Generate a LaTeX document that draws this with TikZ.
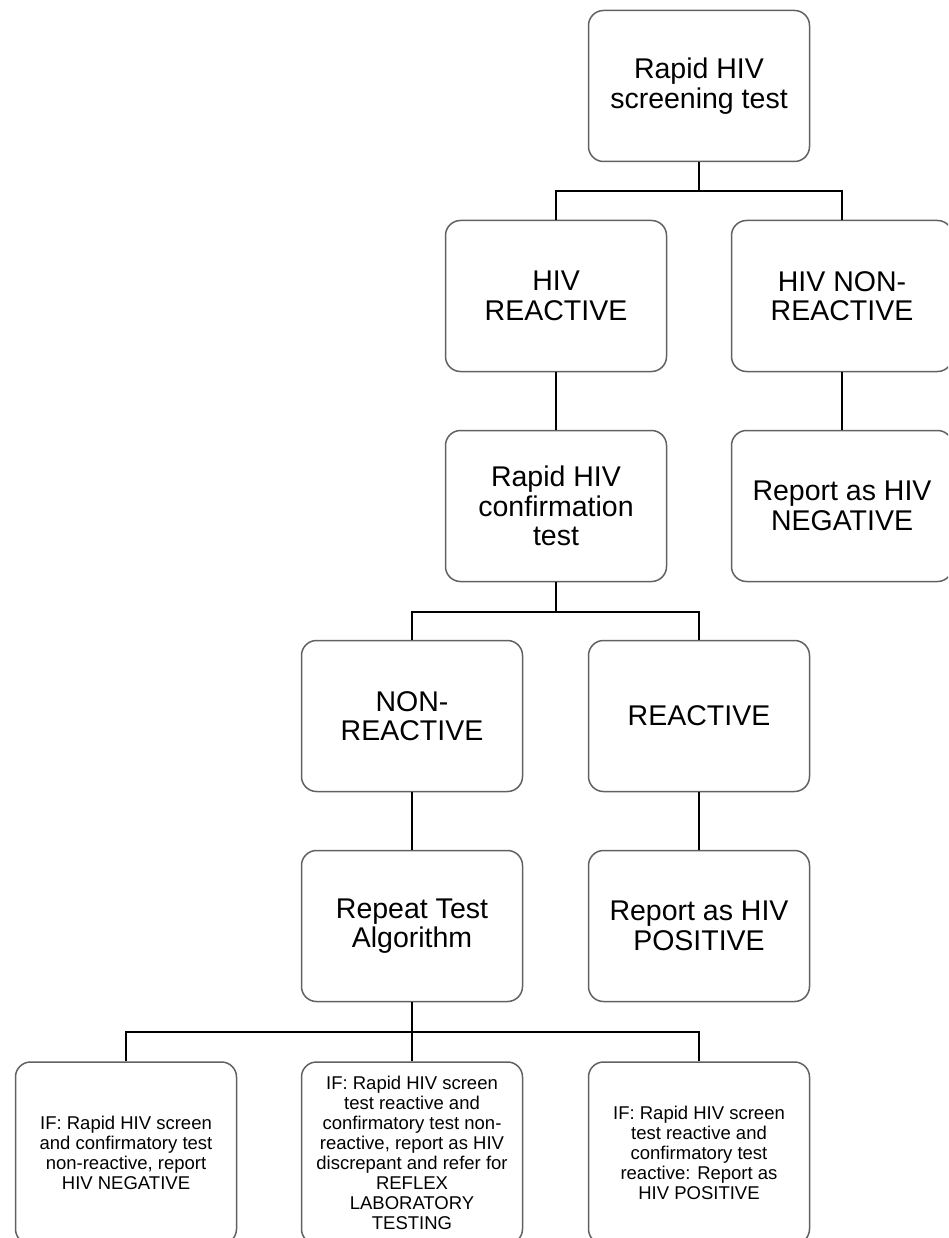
\documentclass[tikz,border=0pt]{standalone}
\usepackage{fontspec}
\setmainfont{Liberation Sans}
\begin{document}
\begin{tikzpicture}[x=1pt,y=-1pt,
  box/.style={draw=black!62, line width=1.5pt, rounded corners=15pt, minimum width=221pt, minimum height=151pt, align=center, inner sep=0pt, font=\fontsize{28.5}{29.5}\selectfont},
  smallbox/.style={box, minimum height=182pt, font=\fontsize{18.5}{20}\selectfont},
  conn/.style={line width=1.4pt, black}]
\useasboundingbox (0,0) rectangle (948,1238);
\clip (0,0) rectangle (948,1238);
\node[box] (s) at (699,86) {Rapid HIV\\screening test};
\node[box] (r) at (556,296) {HIV\\REACTIVE};
\node[box] (n) at (842,296) {HIV NON-\\REACTIVE};
\node[box] (c) at (556,506) {Rapid HIV\\confirmation\\test};
\node[box] (neg) at (842,506) {Report as HIV\\NEGATIVE};
\node[box] (nr) at (412,716) {NON-\\REACTIVE};
\node[box] (re) at (699,716) {REACTIVE};
\node[box] (rep) at (412,926) {Repeat Test\\Algorithm};
\node[box] (pos) at (699,926) {Report as HIV\\POSITIVE};
\node[smallbox] (b1) at (126,1153) {IF: Rapid HIV screen\\and confirmatory test\\non-reactive, report\\HIV NEGATIVE};
\node[smallbox] (b2) at (412,1153) {IF: Rapid HIV screen\\test reactive and\\confirmatory test non-\\reactive, report as HIV\\discrepant and refer for\\REFLEX\\LABORATORY\\TESTING};
\node[smallbox] (b3) at (699,1153) {IF: Rapid HIV screen\\test reactive and\\confirmatory test\\reactive: Report as\\HIV POSITIVE};
\coordinate (j1) at (699,191);
\coordinate (j2) at (556,612);
\coordinate (j3) at (412,1032);
\draw[conn] (s.south) -- (j1);
\draw[conn] (r.north) |- (j1) -| (n.north);
\draw[conn] (r.south) -- (c.north);
\draw[conn] (n.south) -- (neg.north);
\draw[conn, line width=2.6pt] (c.south) -- (j2);
\draw[conn] (nr.north) |- (j2) -| (re.north);
\draw[conn] (nr.south) -- (rep.north);
\draw[conn] (re.south) -- (pos.north);
\draw[conn] (rep.south) -- (j3);
\draw[conn] (b1.north) |- (j3) -| (b3.north);
\draw[conn] (j3) -- (b2.north);
\end{tikzpicture}
\end{document}
